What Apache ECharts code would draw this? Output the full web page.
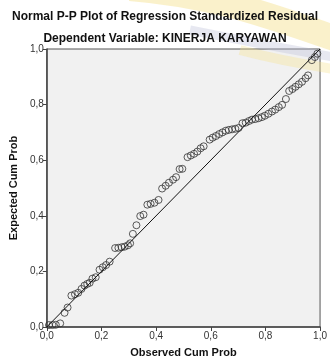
<!DOCTYPE html>
<html>
<head>
<meta charset="utf-8">
<script src="https://cdn.jsdelivr.net/npm/echarts@6/dist/echarts.min.js"></script>
<style>
html,body{margin:0;padding:0;background:#fff;}
#chart{width:330px;height:363px;}
</style>
</head>
<body>
<div id="chart"></div>
<script>
var titleText = 'Normal P-P Plot of Regression Standardized Residual';
var subtitleText = 'Dependent Variable: KINERJA KARYAWAN';
var xAxisName = 'Observed Cum Prob';
var yAxisName = 'Expected Cum Prob';
var tickValues = [0, 0.2, 0.4, 0.6, 0.8, 1.0];

var observedCumProb = [
  0.008, 0.021, 0.033, 0.049, 0.065, 0.076, 0.090, 0.103, 0.115, 0.127,
  0.138, 0.148, 0.157, 0.167, 0.179, 0.193, 0.205, 0.217, 0.230, 0.250,
  0.262, 0.274, 0.285, 0.297, 0.305, 0.315, 0.328, 0.342, 0.354, 0.368,
  0.380, 0.394, 0.409, 0.422, 0.435, 0.447, 0.462, 0.473, 0.486, 0.496,
  0.515, 0.527, 0.539, 0.551, 0.563, 0.574, 0.596, 0.607, 0.619, 0.631,
  0.643, 0.655, 0.666, 0.678, 0.690, 0.702, 0.716, 0.728, 0.740, 0.751,
  0.763, 0.775, 0.787, 0.798, 0.811, 0.824, 0.836, 0.849, 0.861, 0.875,
  0.887, 0.899, 0.910, 0.922, 0.934, 0.947, 0.956, 0.970, 0.981, 0.990
];
var expectedCumProb = [
  0.007, 0.007, 0.008, 0.013, 0.051, 0.070, 0.113, 0.118, 0.123, 0.137,
  0.149, 0.155, 0.159, 0.174, 0.179, 0.206, 0.215, 0.223, 0.235, 0.284,
  0.285, 0.287, 0.289, 0.294, 0.301, 0.335, 0.366, 0.399, 0.404, 0.440,
  0.443, 0.447, 0.457, 0.498, 0.508, 0.519, 0.530, 0.539, 0.568, 0.569,
  0.611, 0.617, 0.623, 0.631, 0.643, 0.650, 0.674, 0.681, 0.687, 0.694,
  0.700, 0.706, 0.709, 0.711, 0.713, 0.716, 0.733, 0.735, 0.741, 0.746,
  0.748, 0.751, 0.755, 0.760, 0.767, 0.775, 0.782, 0.791, 0.799, 0.820,
  0.849, 0.856, 0.864, 0.873, 0.882, 0.895, 0.905, 0.960, 0.971, 0.983
];
var referenceLine = [[0, 0], [1, 1]];

var points = observedCumProb.map(function (x, i) { return [x, expectedCumProb[i]]; });
var fmt = function (v) { return v.toFixed(1).replace('.', ','); };
var FONT = '"Liberation Sans", Arial, sans-serif';

var chart = echarts.init(document.getElementById('chart'), null, {renderer: 'canvas'});
chart.setOption({
  backgroundColor: '#ffffff',
  animation: false,
  graphic: [
    {type: 'bezierCurve', z: 0, silent: true,
     shape: {x1: 130, y1: -12, x2: 340, y2: 40, cpx1: 220, cpy1: -5, cpx2: 280, cpy2: 20},
     style: {stroke: 'rgba(245,225,140,0.45)', lineWidth: 26, fill: null}},
    {type: 'bezierCurve', z: 0, silent: true,
     shape: {x1: 190, y1: 30, x2: 340, y2: 58, cpx1: 240, cpy1: 40, cpx2: 290, cpy2: 50},
     style: {stroke: 'rgba(185,190,215,0.35)', lineWidth: 9, fill: null}},
    {type: 'bezierCurve', z: 0, silent: true,
     shape: {x1: 240, y1: 50, x2: 340, y2: 70, cpx1: 270, cpy1: 58, cpx2: 300, cpy2: 64},
     style: {stroke: 'rgba(245,225,140,0.35)', lineWidth: 10, fill: null}}
  ],
  title: [
    {text: titleText, left: 'center', top: 6,
     textStyle: {fontFamily: FONT, fontSize: 12, fontWeight: 'bold', color: '#111'}},
    {text: subtitleText, left: 'center', top: 28,
     textStyle: {fontFamily: FONT, fontSize: 12, fontWeight: 'bold', color: '#111'}}
  ],
  grid: {left: 43, top: 49, width: 282, height: 282, show: true,
         backgroundColor: 'rgba(240,240,240,0.92)', borderColor: '#555', borderWidth: 1},
  xAxis: {
    type: 'value', min: 0, max: 1, interval: 0.2,
    name: xAxisName, nameLocation: 'middle', nameGap: 20,
    nameTextStyle: {fontFamily: FONT, fontSize: 11, fontWeight: 'bold', color: '#111'},
    axisLine: {show: true, lineStyle: {color: '#444', width: 1.5}},
    axisTick: {show: true, length: 4, lineStyle: {color: '#444'}},
    axisLabel: {fontFamily: FONT, fontSize: 10, color: '#333', margin: 4, formatter: fmt},
    splitLine: {show: false}
  },
  yAxis: {
    type: 'value', min: 0, max: 1, interval: 0.2,
    name: yAxisName, nameLocation: 'middle', nameGap: 25, nameRotate: 90,
    nameTextStyle: {fontFamily: FONT, fontSize: 11, fontWeight: 'bold', color: '#111'},
    axisLine: {show: true, lineStyle: {color: '#444', width: 1.5}},
    axisTick: {show: true, length: 4, lineStyle: {color: '#444'}},
    axisLabel: {fontFamily: FONT, fontSize: 10, color: '#333', margin: 3, formatter: fmt},
    splitLine: {show: false}
  },
  series: [
    {type: 'line', data: referenceLine, symbol: 'none', silent: true,
     lineStyle: {color: '#111', width: 1}},
    {type: 'scatter', data: points, symbol: 'circle', symbolSize: 7,
     itemStyle: {color: 'rgba(0,0,0,0)', borderColor: '#333', borderWidth: 1}}
  ]
});
</script>
</body>
</html>
